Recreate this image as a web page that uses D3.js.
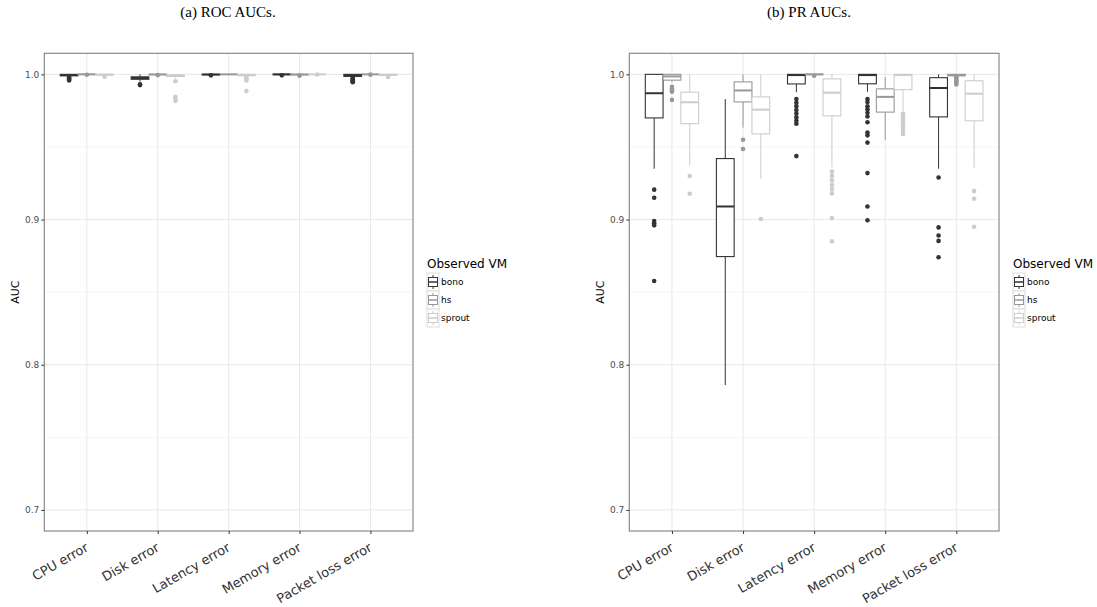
<!DOCTYPE html>
<html>
<head>
<meta charset="utf-8">
<script src="https://cdn.jsdelivr.net/npm/d3@7"></script>
<style>
  html, body { margin: 0; padding: 0; background: #fff; }
  svg { display: block; }
</style>
</head>
<body>
<svg id="chart" width="1097" height="607"></svg>
<script>
// ---------- DATA ----------
const categories = ["CPU error", "Disk error", "Latency error", "Memory error", "Packet loss error"];
const vms = ["bono", "hs", "sprout"];
const yTicks = [0.7, 0.8, 0.9, 1.0];
const yMinor = [0.75, 0.85, 0.95];
const panelTitles = ["(a) ROC AUCs.", "(b) PR AUCs."];
const legendTitle = "Observed VM";

// box stats per category: [lower whisker, q1, median, q3, upper whisker]
const rocBono = [
  [0.9988, 0.9990, 0.9995, 1.0, 1.0],
  [0.9950, 0.9966, 0.9975, 0.9983, 1.0],
  [0.9995, 0.9997, 0.9999, 1.0, 1.0],
  [0.9996, 0.9998, 1.0, 1.0, 1.0],
  [0.9983, 0.9986, 0.9994, 1.0, 1.0]
];
const rocBonoOut = [
  [0.9980, 0.9972, 0.9965, 0.9958],
  [0.9931, 0.9926],
  [0.9993],
  [0.9993],
  [0.9976, 0.9970, 0.9964, 0.9958, 0.9952, 0.9946]
];
const rocHs = [
  [0.9998, 0.9999, 1.0, 1.0, 1.0],
  [0.9997, 0.9998, 0.9999, 1.0, 1.0],
  [1.0, 1.0, 1.0, 1.0, 1.0],
  [0.9995, 0.9997, 0.9999, 1.0, 1.0],
  [1.0, 1.0, 1.0, 1.0, 1.0]
];
const rocHsOut = [
  [0.9997],
  [0.9995],
  [],
  [0.9991],
  [0.9998]
];
const rocSprout = [
  [0.9993, 0.9995, 0.9998, 1.0, 1.0],
  [0.9975, 0.9985, 0.9992, 0.9995, 1.0],
  [0.9985, 0.9990, 0.9996, 1.0, 1.0],
  [1.0, 1.0, 1.0, 1.0, 1.0],
  [0.9992, 0.9994, 0.9997, 1.0, 1.0]
];
const rocSproutOut = [
  [0.9983],
  [0.9952, 0.9846, 0.9830, 0.9817],
  [0.9978, 0.9971, 0.9964, 0.9958, 0.9885],
  [0.9999],
  [0.9982]
];

const prBono = [
  [0.935, 0.970, 0.987, 1.0, 1.0],
  [0.786, 0.8745, 0.909, 0.942, 0.983],
  [0.9877, 0.9934, 0.9995, 1.0, 1.0],
  [0.988, 0.9935, 0.9995, 1.0, 1.0],
  [0.935, 0.9707, 0.9906, 0.9977, 1.0]
];
const prBonoOut = [
  [0.9206, 0.915, 0.899, 0.8975, 0.896, 0.8577],
  [],
  [0.983, 0.9805, 0.978, 0.9755, 0.973, 0.9705, 0.968, 0.966, 0.9437],
  [0.983, 0.981, 0.978, 0.976, 0.9735, 0.971, 0.967, 0.960, 0.958, 0.953, 0.932, 0.909, 0.8995],
  [0.929, 0.8946, 0.889, 0.8853, 0.874]
];
const prHs = [
  [0.995, 0.996, 0.9986, 1.0, 1.0],
  [0.9633, 0.981, 0.9889, 0.9948, 1.0],
  [0.9995, 0.9998, 1.0, 1.0, 1.0],
  [0.955, 0.974, 0.9845, 0.990, 0.998],
  [0.9985, 0.999, 0.9995, 1.0, 1.0]
];
const prHsOut = [
  [0.9915, 0.990, 0.989, 0.988, 0.9824],
  [0.955, 0.9486],
  [0.999],
  [],
  [0.998, 0.997, 0.996, 0.995, 0.994, 0.993]
];
const prSprout = [
  [0.937, 0.966, 0.9808, 0.9877, 1.0],
  [0.928, 0.959, 0.9757, 0.9845, 1.0],
  [0.936, 0.9714, 0.9874, 0.9969, 1.0],
  [0.975, 0.9895, 0.9995, 1.0, 1.0],
  [0.9357, 0.968, 0.9867, 0.9956, 1.0]
];
const prSproutOut = [
  [0.930, 0.9178],
  [0.9004],
  [0.933, 0.930, 0.927, 0.924, 0.921, 0.918, 0.901, 0.885],
  [0.973, 0.971, 0.969, 0.967, 0.965, 0.963, 0.961, 0.959],
  [0.9196, 0.9143, 0.895]
];

// ---------- STYLE / LAYOUT ----------
const vmColors = ["#333333", "#989898", "#cccccc"];
const panels = [
  { title: panelTitles[0], stats: [rocBono, rocHs, rocSprout], outs: [rocBonoOut, rocHsOut, rocSproutOut],
    x0: 44.3, x1: 413, y0: 53.3, y1: 531, titleX: 228, axisLabelX: 15, legendX: 427 },
  { title: panelTitles[1], stats: [prBono, prHs, prSprout], outs: [prBonoOut, prHsOut, prSproutOut],
    x0: 629.3, x1: 999, y0: 53.3, y1: 531, titleX: 809, axisLabelX: 600, legendX: 1013 }
];
const yDomain = [0.6855, 1.0145];
const svg = d3.select("#chart");

panels.forEach(p => {
  const g = svg.append("g");
  const x = d3.scalePoint().domain(categories).range([p.x0, p.x1]).padding(0.6);
  const y = d3.scaleLinear().domain(yDomain).range([p.y1, p.y0]);
  const boxW = x.step() * 0.75 / vms.length;
  const dodge = d3.scaleBand().domain(vms).range([-x.step() * 0.375, x.step() * 0.375]);

  // title
  svg.append("text").attr("x", p.titleX).attr("y", 17).attr("text-anchor", "middle")
    .style("font-family", "Liberation Serif, Times New Roman, serif").style("font-size", "15px")
    .attr("fill", "#000").text(p.title);

  // panel background
  g.append("rect").attr("x", p.x0).attr("y", p.y0).attr("width", p.x1 - p.x0).attr("height", p.y1 - p.y0)
    .attr("fill", "#fff");

  // minor grid
  g.selectAll(".minor").data(yMinor).join("line")
    .attr("x1", p.x0).attr("x2", p.x1).attr("y1", d => y(d)).attr("y2", d => y(d))
    .attr("stroke", "#f5f5f5").attr("stroke-width", 1);
  // major grid
  g.selectAll(".majory").data(yTicks).join("line")
    .attr("x1", p.x0).attr("x2", p.x1).attr("y1", d => y(d)).attr("y2", d => y(d))
    .attr("stroke", "#e8e8e8").attr("stroke-width", 1);
  g.selectAll(".majorx").data(categories).join("line")
    .attr("x1", d => x(d)).attr("x2", d => x(d)).attr("y1", p.y0).attr("y2", p.y1)
    .attr("stroke", "#e8e8e8").attr("stroke-width", 1);

  // boxes
  vms.forEach((vm, vi) => {
    const col = vmColors[vi];
    categories.forEach((cat, ci) => {
      const s = p.stats[vi][ci];
      const cx = x(cat) + dodge(vm) + dodge.bandwidth() / 2;
      const bg = g.append("g");
      // whiskers
      bg.append("line").attr("x1", cx).attr("x2", cx).attr("y1", y(s[3])).attr("y2", y(s[4]))
        .attr("stroke", col).attr("stroke-width", 1);
      bg.append("line").attr("x1", cx).attr("x2", cx).attr("y1", y(s[1])).attr("y2", y(s[0]))
        .attr("stroke", col).attr("stroke-width", 1);
      // box
      bg.append("rect").attr("x", cx - boxW / 2).attr("width", boxW)
        .attr("y", y(s[3])).attr("height", Math.max(0, y(s[1]) - y(s[3])))
        .attr("fill", "#fff").attr("stroke", col).attr("stroke-width", 1.1);
      // median
      bg.append("line").attr("x1", cx - boxW / 2).attr("x2", cx + boxW / 2)
        .attr("y1", y(s[2])).attr("y2", y(s[2])).attr("stroke", col).attr("stroke-width", 2);
      // outliers
      bg.selectAll("circle").data(p.outs[vi][ci]).join("circle")
        .attr("cx", cx).attr("cy", d => y(d)).attr("r", 2.3).attr("fill", col);
    });
  });

  // border
  g.append("rect").attr("x", p.x0).attr("y", p.y0).attr("width", p.x1 - p.x0).attr("height", p.y1 - p.y0)
    .attr("fill", "none").attr("stroke", "#8a8a8a").attr("stroke-width", 1.2);

  // y axis
  const yAxis = d3.axisLeft(y).tickValues(yTicks).tickFormat(d3.format(".1f")).tickSize(3).tickPadding(2);
  const ya = g.append("g").attr("transform", `translate(${p.x0},0)`).call(yAxis);
  ya.select(".domain").remove();
  ya.selectAll(".tick line").attr("stroke", "#333");
  ya.selectAll(".tick text").attr("fill", "#4d4d4d")
    .style("font-family", "DejaVu Sans, sans-serif").style("font-size", "9px");

  // x axis
  const xAxis = d3.axisBottom(x).tickSize(3).tickPadding(2);
  const xa = g.append("g").attr("transform", `translate(0,${p.y1})`).call(xAxis);
  xa.select(".domain").remove();
  xa.selectAll(".tick line").attr("stroke", "#333");
  xa.selectAll(".tick text").attr("fill", "#333")
    .style("font-family", "DejaVu Sans, sans-serif").style("font-size", "13px")
    .attr("text-anchor", "end").attr("dy", null).attr("y", 0)
    .attr("transform", "translate(2,19) rotate(-30)");

  // y axis label
  svg.append("text").attr("transform", `translate(${p.axisLabelX},${(p.y0 + p.y1) / 2}) rotate(-90)`)
    .attr("text-anchor", "middle").attr("dy", "0.35em")
    .style("font-family", "DejaVu Sans, sans-serif").style("font-size", "11px").attr("fill", "#000")
    .text("AUC");

  // legend
  const lg = svg.append("g").attr("transform", `translate(${p.legendX},0)`);
  lg.append("text").attr("x", 0).attr("y", 268)
    .style("font-family", "DejaVu Sans, sans-serif").style("font-size", "12px").attr("fill", "#000")
    .text(legendTitle);
  const keyH = 18, keyW = 12, keyTop = 273;
  vms.forEach((vm, vi) => {
    const ky = keyTop + vi * keyH;
    const col = vmColors[vi];
    const kg = lg.append("g");
    kg.append("rect").attr("x", 0).attr("y", ky).attr("width", keyW).attr("height", keyH)
      .attr("fill", "#fff").attr("stroke", "#dcdcdc").attr("stroke-width", 1);
    kg.append("line").attr("x1", keyW / 2).attr("x2", keyW / 2).attr("y1", ky + 2).attr("y2", ky + keyH - 2)
      .attr("stroke", col).attr("stroke-width", 1);
    kg.append("rect").attr("x", 1.5).attr("y", ky + 4.5).attr("width", keyW - 3).attr("height", keyH - 9)
      .attr("fill", "#fff").attr("stroke", col).attr("stroke-width", 1);
    kg.append("line").attr("x1", 1.5).attr("x2", keyW - 1.5).attr("y1", ky + keyH / 2).attr("y2", ky + keyH / 2)
      .attr("stroke", col).attr("stroke-width", 1.5);
    kg.append("text").attr("x", keyW + 2).attr("y", ky + keyH / 2).attr("dy", "0.35em")
      .style("font-family", "DejaVu Sans, sans-serif").style("font-size", "9px").attr("fill", "#000")
      .text(vm);
  });
});
</script>
</body>
</html>
